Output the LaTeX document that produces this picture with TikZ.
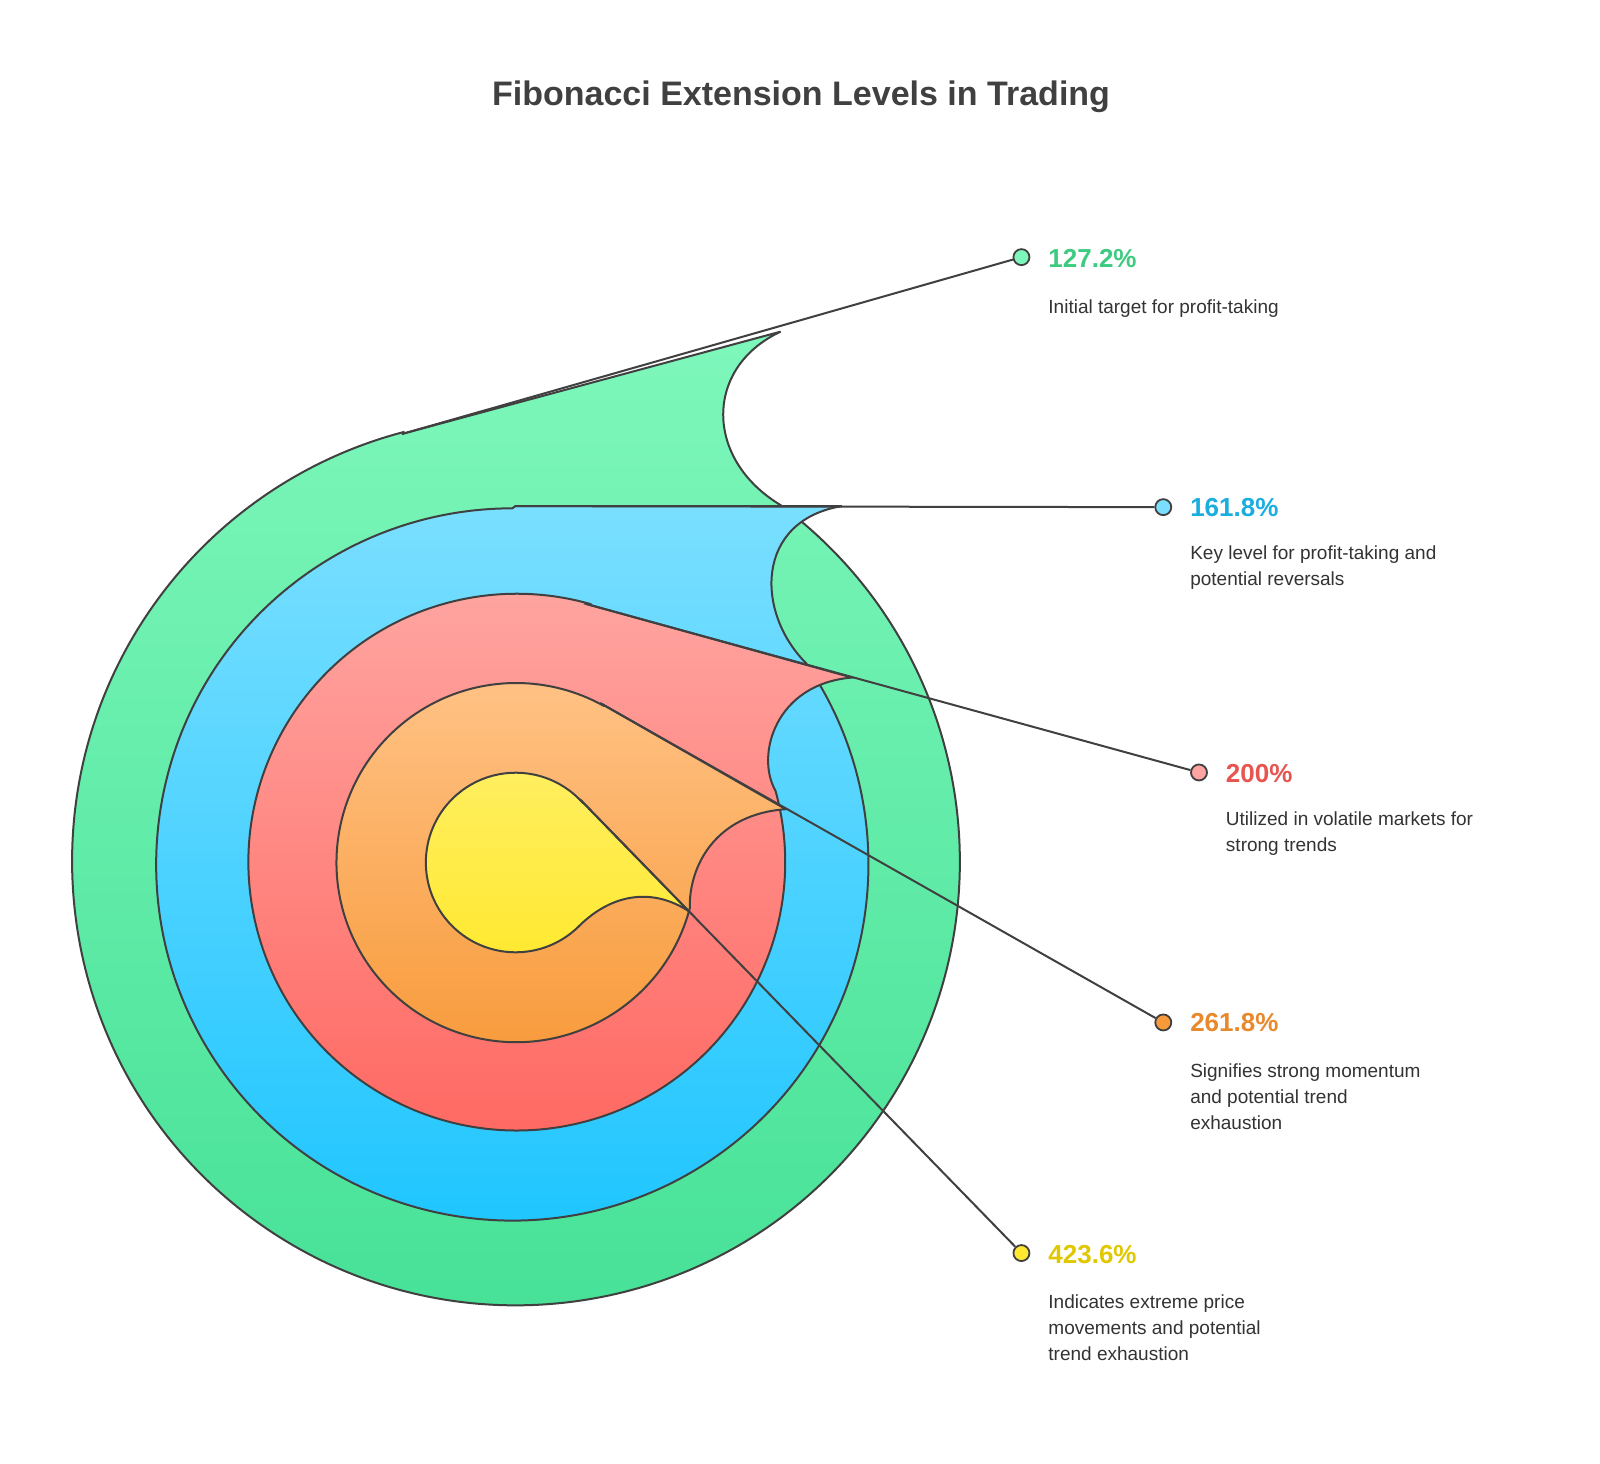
\documentclass[tikz,border=0pt]{standalone}
\usepackage{fontspec}
\setmainfont{Liberation Sans}
\begin{document}
\begin{tikzpicture}[x=1.0204pt,y=-1.0204pt,
  outl/.style={draw=black!75,line width=2pt},
  lead/.style={draw=black!75,line width=2pt},
  dotn/.style={circle,draw=black!75,line width=1.8pt,minimum size=16pt,inner sep=0pt},
  pct/.style={anchor=west,font=\fontsize{26}{30}\selectfont\bfseries},
  desc/.style={anchor=north west,align=left,text=black!80,font=\fontsize{19}{26}\selectfont}]
\useasboundingbox[fill=white] (0,0) rectangle (1568,1434.7);
\definecolor{gA}{HTML}{7EF7BB}\definecolor{gB}{HTML}{44E095}
\definecolor{bA}{HTML}{7ADFFF}\definecolor{bB}{HTML}{1AC4FF}
\definecolor{rA}{HTML}{FFA4A0}\definecolor{rB}{HTML}{FF6660}
\definecolor{oA}{HTML}{FFC285}\definecolor{oB}{HTML}{F89A3A}
\definecolor{yA}{HTML}{FFEE60}\definecolor{yB}{HTML}{FFE930}
\definecolor{tg}{HTML}{3CCB80}\definecolor{tb}{HTML}{1AADE0}
\definecolor{tr}{HTML}{E85450}\definecolor{to}{HTML}{E8892E}
\definecolor{ty}{HTML}{E0C800}
\node[font=\fontsize{34}{40}\selectfont\bfseries,text=black!75] (title) at (785,95) {Fibonacci Extension Levels in Trading};
% coordinates
\coordinate (c) at (505,845);
\coordinate (gT) at (395,425); \coordinate (gP) at (765,325); \coordinate (gE) at (765,495);
\coordinate (bT) at (505,496); \coordinate (bP) at (825,496); \coordinate (bE) at (790,650);
\coordinate (rT) at (575,592); \coordinate (rP) at (835,664); \coordinate (rE) at (760,775);
\coordinate (oT) at (590,690); \coordinate (oP) at (770,793); \coordinate (oE) at (676,890);
\coordinate (yT) at (570,785); \coordinate (yP) at (675,893); \coordinate (yE) at (567,908);
% shapes
\draw[outl,top color=gA,bottom color=gB] (gT) -- (gP) .. controls (690,360) and (690,450) .. (gE) arc[start angle=-53.4,end angle=255.3,radius=435] -- cycle;
\draw[outl,top color=bA,bottom color=bB] (bT) -- (bP) .. controls (740,510) and (740,600) .. (bE) arc[start angle=-34.4,end angle=270,radius=349] -- cycle;
\draw[outl,top color=rA,bottom color=rB] (rT) -- (rP) .. controls (760,670) and (740,740) .. (rE) arc[start angle=-15.4,end angle=285.5,radius=263] -- cycle;
\draw[outl,top color=oA,bottom color=oB] (oT) -- (oP) .. controls (700,798) and (675,850) .. (oE) arc[start angle=14.7,end angle=298.7,radius=176] -- cycle;
\draw[outl,top color=yA,bottom color=yB] (yT) -- (yP) .. controls (640,870) and (600,875) .. (yE) arc[start angle=45.5,end angle=317.3,radius=88] -- cycle;
% dots
\node[dotn,fill=gA] (dg) at (1001,252) {};
\node[dotn,fill=bA] (db) at (1140,497) {};
\node[dotn,fill=rA] (dr) at (1175,757) {};
\node[dotn,fill=oB] (do) at (1140,1002) {};
\node[dotn,fill=yB] (dy) at (1001,1228) {};
\draw[lead] (gT) -- (dg); \draw[lead] (bT) -- (db); \draw[lead] (rT) -- (dr);
\draw[lead] (oT) -- (do); \draw[lead] (yT) -- (dy);
% labels
\node[pct,text=tg] (lg) at (1024,253) {127.2\%};
\node[pct,text=tb] (lb) at (1163,497) {161.8\%};
\node[pct,text=tr] (lr) at (1198,758) {200\%};
\node[pct,text=to] (lo) at (1163,1002) {261.8\%};
\node[pct,text=ty] (ly) at (1024,1229) {423.6\%};
\node[desc] (tg1) at (1024,290) {Initial target for profit-taking};
\node[desc] (tb1) at (1163,531) {Key level for profit-taking and\\potential reversals};
\node[desc] (tr1) at (1198,792) {Utilized in volatile markets for\\strong trends};
\node[desc] (to1) at (1163,1039) {Signifies strong momentum\\and potential trend\\exhaustion};
\node[desc] (ty1) at (1024,1265) {Indicates extreme price\\movements and potential\\trend exhaustion};
\end{tikzpicture}
\end{document}
